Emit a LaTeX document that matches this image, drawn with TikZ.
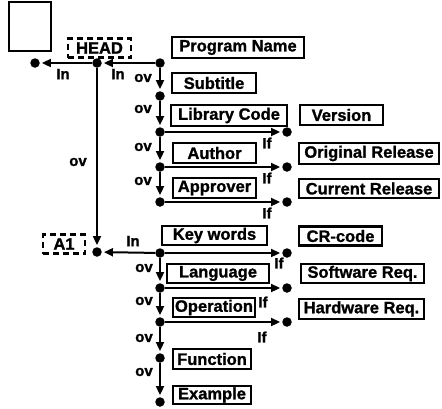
\documentclass[tikz,border=0pt]{standalone}
\usepackage{fontspec}
\setmainfont{Liberation Sans}
\newfontfamily\heavy[FakeBold=1.2]{Liberation Sans Bold}
\usetikzlibrary{arrows.meta}
\begin{document}
\begin{tikzpicture}[x=1pt,y=-1pt,
  bx/.style={draw, line width=2.2pt, inner sep=0pt, font=\fontsize{16.5}{18}\heavy},
  dbx/.style={draw, line width=2.6pt, dash pattern=on 6pt off 4pt, inner sep=0pt, font=\fontsize{16.5}{18}\heavy},
  dot/.style={circle, fill=black, inner sep=0pt, minimum size=9.5pt},
  lbl/.style={font=\fontsize{15}{16}\heavy, inner sep=0pt},
  arr/.style={line width=2pt, -{Triangle[length=9pt,width=8pt]}, shorten >=2pt}
]
\useasboundingbox (0,0) rectangle (442,408);

% empty box
\node[draw, line width=2.2pt, minimum width=42pt, minimum height=49pt, inner sep=0pt] (empty) at (30,26.5) {};

% dashed boxes
\node[dbx, minimum width=63pt, minimum height=19pt] (head) at (99.5,48) {HEAD};
\node[dbx, minimum width=42pt, minimum height=19pt] (aone) at (64,244) {A1};

% dots
\node[dot] (l0) at (35,63) {};
\node[dot] (m0) at (97,63) {};
\node[dot] (m1) at (97,252) {};
\node[dot] (a1) at (160,63) {};
\node[dot] (a2) at (160,96) {};
\node[dot] (a3) at (160,132) {};
\node[dot] (a4) at (160,167) {};
\node[dot] (a5) at (160,202) {};
\node[dot] (b1) at (160,253) {};
\node[dot] (b2) at (160,288) {};
\node[dot] (b3) at (160,322) {};
\node[dot] (b4) at (160,358) {};
\node[dot] (b5) at (160,402) {};
\node[dot] (r1) at (287,132) {};
\node[dot] (r2) at (287,167) {};
\node[dot] (r3) at (287,202) {};
\node[dot] (r4) at (287,253) {};
\node[dot] (r5) at (287,288) {};
\node[dot] (r6) at (287,322) {};

% boxes
\node[bx, minimum width=132pt, minimum height=21pt] (pname) at (238,47.5) {Program Name};
\node[bx, minimum width=84pt, minimum height=20pt] (subt) at (214,83) {Subtitle};
\node[bx, minimum width=116pt, minimum height=21pt] (lib) at (229,115.5) {Library Code};
\node[bx, minimum width=83pt, minimum height=20pt] (ver) at (341.5,115) {Version};
\node[bx, minimum width=83pt, minimum height=20pt] (auth) at (214.5,153) {Author};
\node[bx, minimum width=140pt, minimum height=21pt] (orig) at (369,153.5) {Original Release};
\node[bx, minimum width=83pt, minimum height=20pt] (appr) at (214.5,188) {Approver};
\node[bx, minimum width=140pt, minimum height=19pt] (curr) at (369,188.5) {Current Release};
\node[bx, minimum width=105pt, minimum height=19pt] (keyw) at (214.5,235.5) {Key words};
\node[bx, minimum width=83pt, minimum height=19pt] (crc) at (340.5,236) {CR-code};
\node[bx, minimum width=102pt, minimum height=19pt] (lang) at (218,273.5) {Language};
\node[bx, minimum width=123pt, minimum height=19pt] (swr) at (362.5,273.5) {Software Req.};
\node[bx, minimum width=82pt, minimum height=19pt] (oper) at (214,307.5) {Operation};
\node[bx, minimum width=125pt, minimum height=20pt] (hwr) at (361.5,309) {Hardware Req.};
\node[bx, minimum width=78pt, minimum height=20pt] (func) at (212,359) {Function};
\node[bx, minimum width=78pt, minimum height=18pt] (exam) at (212,395) {Example};

% connectors
\draw[arr] (a1) -- (m0);
\draw[arr] (m0) -- (l0);
\draw[arr] (m0) -- (m1);
\draw[arr] (b1) -- (m1);
\draw[arr] (a1) -- (a2);
\draw[arr] (a2) -- (a3);
\draw[arr] (a3) -- (a4);
\draw[arr] (a4) -- (a5);
\draw[arr] (b1) -- (b2);
\draw[arr] (b2) -- (b3);
\draw[arr] (b3) -- (b4);
\draw[arr] (b4) -- (b5);
\draw[arr] (a3) -- (r1);
\draw[arr] (a4) -- (r2);
\draw[arr] (a5) -- (r3);
\draw[arr] (b1) -- (r4);
\draw[arr] (b2) -- (r5);
\draw[arr] (b3) -- (r6);

% labels
\node[lbl] (in1) at (63,74) {In};
\node[lbl] (in2) at (118,74) {In};
\node[lbl] (in3) at (133,241) {In};
\node[lbl] (ov0) at (78,162) {ov};
\node[lbl] (ov1) at (143,78) {ov};
\node[lbl] (ov2) at (143,109) {ov};
\node[lbl] (ov3) at (143,147) {ov};
\node[lbl] (ov4) at (143,181) {ov};
\node[lbl] (ov5) at (144,268) {ov};
\node[lbl] (ov6) at (144,301) {ov};
\node[lbl] (ov7) at (144,338) {ov};
\node[lbl] (ov8) at (144,372) {ov};
\node[lbl] (if1) at (267,143) {If};
\node[lbl] (if2) at (267,178) {If};
\node[lbl] (if3) at (267,213) {If};
\node[lbl] (if4) at (279,263) {If};
\node[lbl] (if5) at (263,302) {If};
\node[lbl] (if6) at (262,337) {If};
\end{tikzpicture}
\end{document}
